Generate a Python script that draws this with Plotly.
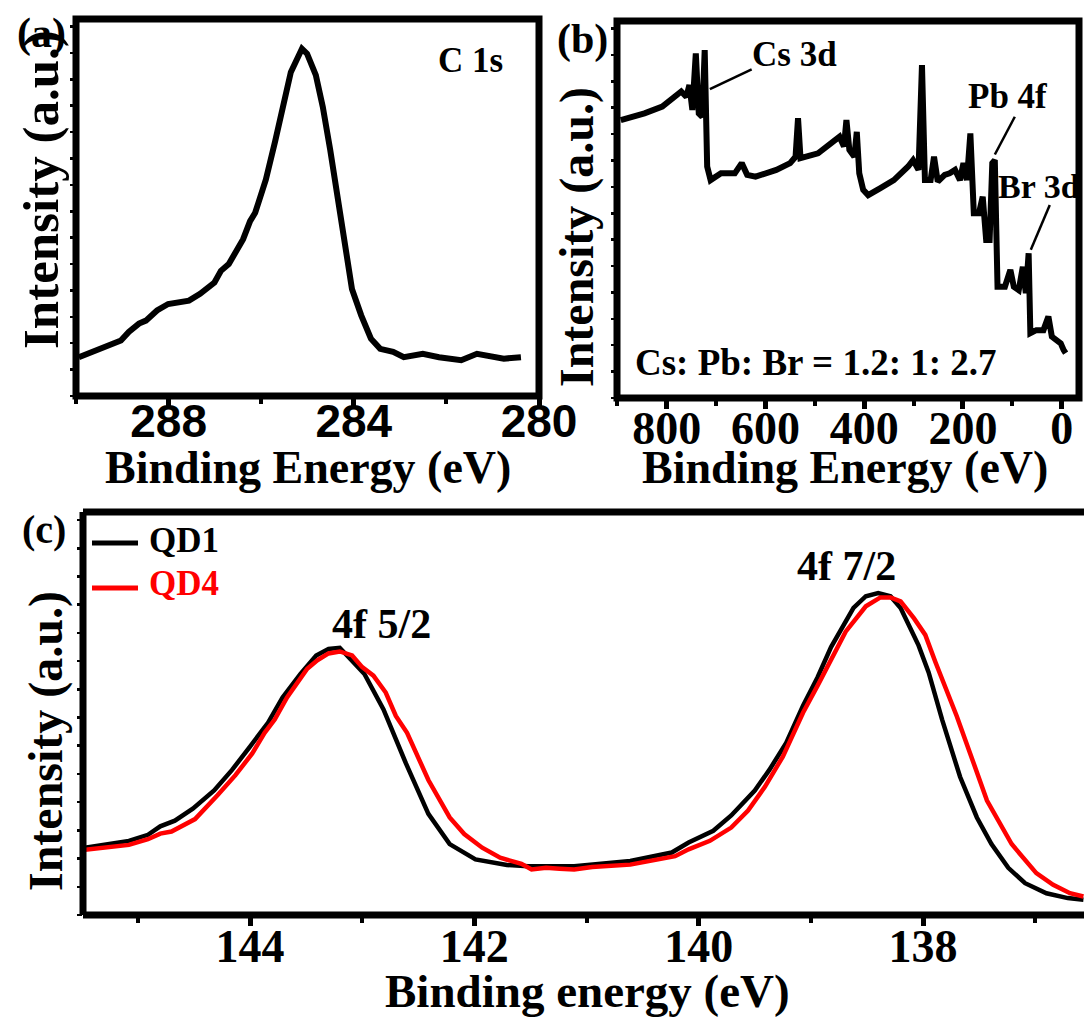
import plotly.graph_objects as go

W, H = 1084, 1019

# ---------------- (a) C 1s high-resolution spectrum ----------------
c1s_energy = [289.94, 289.57, 289.33, 289.03, 288.86, 288.64, 288.49, 288.25, 288.01,
              287.78, 287.56, 287.32, 287.01, 286.87, 286.70, 286.39, 286.24, 286.13,
              285.90, 285.70, 285.46, 285.36, 285.12, 285.01, 284.82, 284.67, 284.51,
              284.35, 284.19, 284.04, 283.84, 283.63, 283.43, 283.15, 282.92, 282.51,
              282.16, 281.68, 281.34, 280.99, 280.76, 280.39]
c1s_intensity = [10.3, 12.1, 13.4, 14.7, 17.0, 19.2, 20.0, 22.7, 24.4,
                 24.9, 25.3, 27.1, 30.1, 33.2, 35.0, 41.6, 46.4, 48.6,
                 57.4, 67.5, 80.2, 85.9, 92.1, 90.8, 85.1, 76.7, 65.3,
                 52.1, 39.8, 28.4, 21.4, 15.2, 12.5, 11.7, 10.3, 11.2,
                 10.3, 9.5, 11.2, 10.3, 9.9, 10.3]

# ---------------- (b) survey spectrum ----------------
survey_energy = [893, 845, 809, 782, 770.5, 760, 754, 748, 741, 735, 728, 723, 718, 711,
                 690, 662, 648, 637, 620, 578, 550, 539, 534, 529, 493.5, 459, 450, 441,
                 436, 430, 420, 415, 410, 402, 392, 368, 340, 311, 301, 290, 283, 277,
                 265.5, 258.6, 251, 237, 227, 216, 206, 199, 192, 185, 178, 167.6, 160,
                 153, 146, 140.6, 135.5, 130, 115, 104, 97, 87, 78.8, 72.7, 67, 63.5,
                 51.5, 37, 27, 20, 10, 2, -4, -8]
survey_intensity = [73.7, 75.5, 77.3, 80.4, 81.3, 79.9, 83.0, 76.4, 91.4, 75.5, 74.6, 92.3,
                    61.4, 57.8, 59.6, 59.6, 62.3, 59.2, 58.7, 60.5, 62.3, 64.0, 74.2, 63.6,
                    64.9, 68.4, 69.3, 66.7, 73.7, 65.8, 64.0, 70.6, 59.6, 55.2, 53.8, 55.6,
                    57.8, 61.4, 63.1, 60.5, 88.3, 57.8, 57.8, 64.0, 57.4, 59.2, 59.6, 60.5,
                    57.8, 62.3, 57.8, 70.2, 49.0, 49.0, 53.4, 41.9, 41.9, 62.3, 63.1, 29.5,
                    29.5, 34.0, 29.5, 28.6, 34.8, 27.8, 38.4, 17.2, 18.0, 18.0, 21.6, 16.3,
                    15.4, 14.5, 12.7, 11.9]

# ---------------- (c) Pb 4f spectra ----------------
qd1_energy = [145.50, 145.27, 145.08, 144.91, 144.80, 144.67, 144.51, 144.32, 144.16,
              144.00, 143.84, 143.71, 143.55, 143.41, 143.30, 143.20, 143.11, 142.98,
              142.81, 142.61, 142.41, 142.22, 141.99, 141.71, 141.52, 141.24, 141.11,
              140.61, 140.24, 140.09, 139.87, 139.71, 139.50, 139.37, 139.22, 139.07,
              138.94, 138.82, 138.72, 138.62, 138.51, 138.40, 138.29, 138.20, 138.04,
              137.95, 137.83, 137.67, 137.52, 137.39, 137.24, 137.09, 136.90, 136.71,
              136.57]
qd1_intensity = [16.6, 17.6, 18.4, 19.9, 22.0, 23.4, 26.4, 30.9, 36.0,
                 41.8, 47.7, 54.0, 59.8, 64.4, 66.0, 66.3, 63.6, 59.8,
                 51.0, 37.6, 25.1, 17.6, 13.8, 12.4, 12.1, 12.1, 12.1,
                 13.4, 15.5, 18.0, 20.9, 24.7, 30.9, 36.0, 42.7, 51.9,
                 59.0, 66.5, 71.1, 76.2, 79.1, 79.9, 79.1, 76.2, 66.9,
                 60.2, 48.5, 34.3, 24.2, 17.6, 11.7, 7.9, 5.4, 4.2,
                 3.8]

qd4_energy = [145.50, 145.21, 145.08, 144.91, 144.80, 144.70, 144.49, 144.29, 144.13,
              143.98, 143.87, 143.78, 143.67, 143.49, 143.40, 143.30, 143.20, 143.09,
              143.00, 142.90, 142.79, 142.70, 142.60, 142.41, 142.22, 142.09, 141.93,
              141.77, 141.58, 141.49, 141.36, 141.24, 141.11, 140.95, 140.61, 140.21,
              140.09, 139.90, 139.71, 139.56, 139.41, 139.25, 139.07, 138.94, 138.82,
              138.69, 138.51, 138.38, 138.29, 138.20, 138.08, 137.98, 137.89, 137.70,
              137.58, 137.43, 137.21, 136.99, 136.84, 136.69, 136.57]
qd4_intensity = [16.1, 16.9, 17.4, 18.8, 20.2, 20.7, 23.8, 29.7, 34.7,
                 40.1, 45.2, 48.5, 54.0, 61.1, 63.2, 64.9, 65.4, 64.4,
                 61.5, 59.4, 55.2, 49.4, 45.2, 33.5, 24.2, 20.1, 16.7,
                 14.2, 12.7, 11.3, 11.7, 11.5, 11.3, 11.9, 12.5, 14.6,
                 16.3, 18.4, 21.7, 25.9, 31.8, 39.3, 50.2, 56.9, 63.6,
                 70.3, 76.6, 78.8, 78.8, 77.8, 73.6, 69.5, 62.8, 49.4,
                 40.1, 28.4, 17.6, 10.4, 7.5, 5.4, 4.6]

SERIF = "Liberation Serif, Times New Roman, serif"
SANS = "Liberation Sans, Arial, sans-serif"


def px(x):
    return x / W


def py(y):
    return 1 - y / H


fig = go.Figure()
fig.add_trace(go.Scatter(x=c1s_energy, y=c1s_intensity, xaxis="x", yaxis="y",
                         mode="lines", line=dict(color="black", width=6),
                         showlegend=False))
fig.add_trace(go.Scatter(x=survey_energy, y=survey_intensity, xaxis="x2", yaxis="y2",
                         mode="lines", line=dict(color="black", width=6),
                         showlegend=False))
fig.add_trace(go.Scatter(x=qd1_energy, y=qd1_intensity, xaxis="x3", yaxis="y3",
                         mode="lines", line=dict(color="black", width=4.5),
                         name="QD1", showlegend=False))
fig.add_trace(go.Scatter(x=qd4_energy, y=qd4_intensity, xaxis="x3", yaxis="y3",
                         mode="lines", line=dict(color="#ff0000", width=4.5),
                         name="QD4", showlegend=False))


def xaxis(domain, rng, dtick, tick0, minor_dtick, family, anchor, standoff):
    return dict(domain=domain, range=rng, anchor=anchor, showgrid=False, zeroline=False,
                showline=False, ticks="outside", ticklen=10, tickwidth=5, tickcolor="black",
                dtick=dtick, tick0=tick0, ticklabelstandoff=standoff, fixedrange=True,
                automargin=False,
                minor=dict(dtick=minor_dtick, tick0=tick0, ticks="outside", ticklen=7,
                           tickwidth=4, tickcolor="black", showgrid=False),
                tickfont=dict(family=family, size=46, color="black", weight="bold"))


def yaxis(domain, anchor):
    return dict(domain=domain, range=[0, 100], anchor=anchor, showgrid=False,
                zeroline=False, showline=False, showticklabels=False, fixedrange=True,
                automargin=False,
                ticks="outside", ticklen=5, tickwidth=2.5, tickcolor="black", dtick=7)


fig.update_layout(
    width=W, height=H, autosize=False,
    # fixed zero margins: nothing may push the plot area inwards
    margin=dict(l=0, r=0, t=0, b=0, pad=0, autoexpand=False),
    paper_bgcolor="white", plot_bgcolor="white",
    dragmode=False,
    xaxis=xaxis([px(76), px(539)], [290, 280], 4, 280, 2, SANS, "y", -25),
    yaxis=yaxis([py(396), py(19)], "x"),
    xaxis2=xaxis([px(617), px(1079)], [900.6, -35], 200, 0, 100, SERIF, "y2", -20),
    yaxis2=yaxis([py(398), py(21)], "x2"),
    xaxis3=xaxis([px(83), 1.0], [145.489, 136.565], 2, 138, 1, SERIF, "y3", -19),
    yaxis3=yaxis([py(915), py(512)], "x3"),
)

shapes = []
# plot frames
for xa, ya in (("x", "y"), ("x2", "y2")):
    shapes.append(dict(type="rect", xref=f"{xa} domain", yref=f"{ya} domain",
                       x0=0, x1=1, y0=0, y1=1, line=dict(color="black", width=7),
                       layer="above"))
for x0, x1, y0, y1 in ((0, 1, 1, 1), (0, 0, 0, 1), (0, 1, 0, 0)):
    shapes.append(dict(type="line", xref="x3 domain", yref="y3 domain",
                       x0=x0, x1=x1, y0=y0, y1=y1, line=dict(color="black", width=7),
                       layer="above"))
# pointer lines for peak labels in the survey spectrum
for (xa, ya), (xb, yb) in (((627.9, 87.2), (712.5, 81.9)),
                           ((95.0, 74.6), (135.4, 64.6)),
                           ((24.2, 51.2), (62.6, 39.3))):
    shapes.append(dict(type="line", xref="x2", yref="y2", x0=xa, y0=ya, x1=xb, y1=yb,
                       line=dict(color="black", width=2.5)))
# legend samples
shapes.append(dict(type="line", xref="paper", yref="paper", x0=px(92), x1=px(138),
                   y0=py(543), y1=py(543), line=dict(color="black", width=5)))
shapes.append(dict(type="line", xref="paper", yref="paper", x0=px(92), x1=px(138),
                   y0=py(588), y1=py(588), line=dict(color="#ff0000", width=5)))
fig.update_layout(shapes=shapes)


def txt(text, x, y, size, xref="paper", yref="paper", angle=0, color="black",
        xanchor="center", family=SERIF):
    return dict(text=text, x=x, y=y, xref=xref, yref=yref, showarrow=False,
                textangle=angle, xanchor=xanchor, yanchor="middle",
                font=dict(family=family, size=size, color=color, weight="bold"))


annotations = [
    # panel tags
    txt("(a)", px(41.5), py(34), 42),
    txt("(b)", px(582), py(39), 42),
    txt("(c)", px(43.5), py(529), 40),
    # axis titles
    txt("Binding Energy (eV)", px(308), py(467), 46),
    txt("Binding Energy (eV)", px(845), py(467), 46),
    txt("Binding energy (eV)", px(587), py(991), 47),
    txt("Intensity (a.u.)", px(41), py(190), 51, angle=-90),
    txt("Intensity (a.u.)", px(577), py(237), 48, angle=-90),
    txt("Intensity (a.u.)", px(46), py(741), 48, angle=-90),
    # peak labels
    txt("C 1s", 281.47, 88.9, 35, xref="x", yref="y"),
    txt("Cs 3d", 541.4, 91.2, 35, xref="x2", yref="y2"),
    txt("Pb 4f", 110.1, 80.0, 35, xref="x2", yref="y2"),
    txt("Br 3d", 46.5, 56.0, 34, xref="x2", yref="y2"),
    txt("Cs: Pb: Br = 1.2: 1: 2.7", 497, 9.5, 37, xref="x2", yref="y2"),
    txt("4f 5/2", 142.83, 72.2, 42, xref="x3", yref="y3"),
    txt("4f 7/2", 138.68, 86.6, 42, xref="x3", yref="y3"),
    # legend labels
    txt("QD1", px(147), py(540), 35, xanchor="left"),
    txt("QD4", px(147), py(583), 35, xanchor="left", color="#ff0000"),
]
fig.update_layout(annotations=annotations)

fig.write_html("out.html", config={"staticPlot": True, "responsive": False})
